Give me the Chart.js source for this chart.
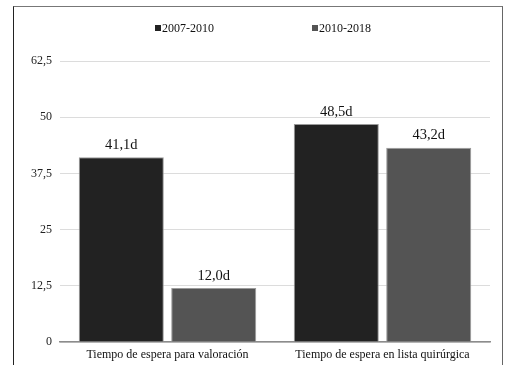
<!DOCTYPE html>
<html>
<head>
<meta charset="utf-8">
<script src="https://cdn.jsdelivr.net/npm/chart.js@4.4.1/dist/chart.umd.min.js"></script>
<style>
  html, body { margin: 0; padding: 0; background: #fff; }
  #wrap { position: relative; width: 507px; height: 365px; overflow: hidden; }
  #frame {
    position: absolute; left: 13px; top: 6px; width: 490px; height: 400px;
    border-left: 1.5px solid #222; border-top: 1.5px solid #777; border-right: 1.5px solid #666;
    box-sizing: border-box; pointer-events: none;
  }
  canvas { position: absolute; left: 0; top: 0; }
</style>
</head>
<body>
<div id="wrap">
  <div id="frame"></div>
  <canvas id="c" width="507" height="365"></canvas>
</div>
<script>
// Waiting times (days) by period
const categories = ['Tiempo de espera para valoración', 'Tiempo de espera en lista quirúrgica'];
const seriesNames = ['2007-2010', '2010-2018'];
const values2007 = [41.1, 48.5];
const values2010 = [12.0, 43.2];
const yTicks = [0, 12.5, 25, 37.5, 50, 62.5];

const serif = '"Liberation Serif", "DejaVu Serif", serif';
const colors = ['#222222', '#545454'];

const fmt = v => v.toFixed(1).replace('.', ',');

// Value labels above each bar
const valueLabels = {
  id: 'valueLabels',
  afterDatasetsDraw(chart) {
    const ctx = chart.ctx;
    ctx.save();
    ctx.font = '14.5px ' + serif;
    ctx.fillStyle = '#111';
    ctx.textAlign = 'center';
    ctx.textBaseline = 'bottom';
    chart.data.datasets.forEach((ds, i) => {
      chart.getDatasetMeta(i).data.forEach((bar, j) => {
        ctx.fillText(fmt(ds.data[j]) + 'd', bar.x, bar.y - 5);
      });
    });
    ctx.restore();
  }
};

// Legend row at the top
const topLegend = {
  id: 'topLegend',
  afterDraw(chart) {
    const ctx = chart.ctx;
    const xs = [155, 312];
    ctx.save();
    ctx.font = '12px ' + serif;
    ctx.textBaseline = 'middle';
    ctx.textAlign = 'left';
    chart.data.datasets.forEach((ds, i) => {
      ctx.fillStyle = ds.backgroundColor;
      ctx.fillRect(xs[i], 25, 6, 6);
      ctx.fillStyle = '#111';
      ctx.fillText(ds.label, xs[i] + 7, 28.5);
    });
    ctx.restore();
  }
};

new Chart(document.getElementById('c'), {
  type: 'bar',
  data: {
    labels: categories,
    datasets: [
      { label: seriesNames[0], data: values2007, backgroundColor: colors[0], borderColor: '#9a9a9a', borderWidth: 1 },
      { label: seriesNames[1], data: values2010, backgroundColor: colors[1], borderColor: '#9a9a9a', borderWidth: 1 }
    ]
  },
  options: {
    responsive: false,
    animation: false,
    layout: { padding: { left: 20, right: 17, top: 61, bottom: 0 } },
    plugins: { legend: { display: false }, tooltip: { enabled: false } },
    datasets: { bar: { categoryPercentage: 0.86, barPercentage: 0.92 } },
    scales: {
      x: {
        grid: { display: false, drawTicks: false },
        border: { display: true, color: '#8c8c8c', width: 1.5 },
        ticks: { color: '#111', font: { family: serif, size: 12 }, padding: 6, maxRotation: 0 },
        afterFit: s => { s.height = 23; }
      },
      y: {
        min: 0, max: 62.5,
        afterBuildTicks: s => { s.ticks = yTicks.map(v => ({ value: v })); },
        grid: { color: '#dcdcdc', lineWidth: 1, drawTicks: false },
        border: { display: false },
        ticks: { color: '#222', font: { family: serif, size: 12 }, padding: 8, callback: v => String(v).replace('.', ',') },
        afterFit: s => { s.width = 40; }
      }
    }
  },
  plugins: [valueLabels, topLegend]
});
</script>
</body>
</html>
